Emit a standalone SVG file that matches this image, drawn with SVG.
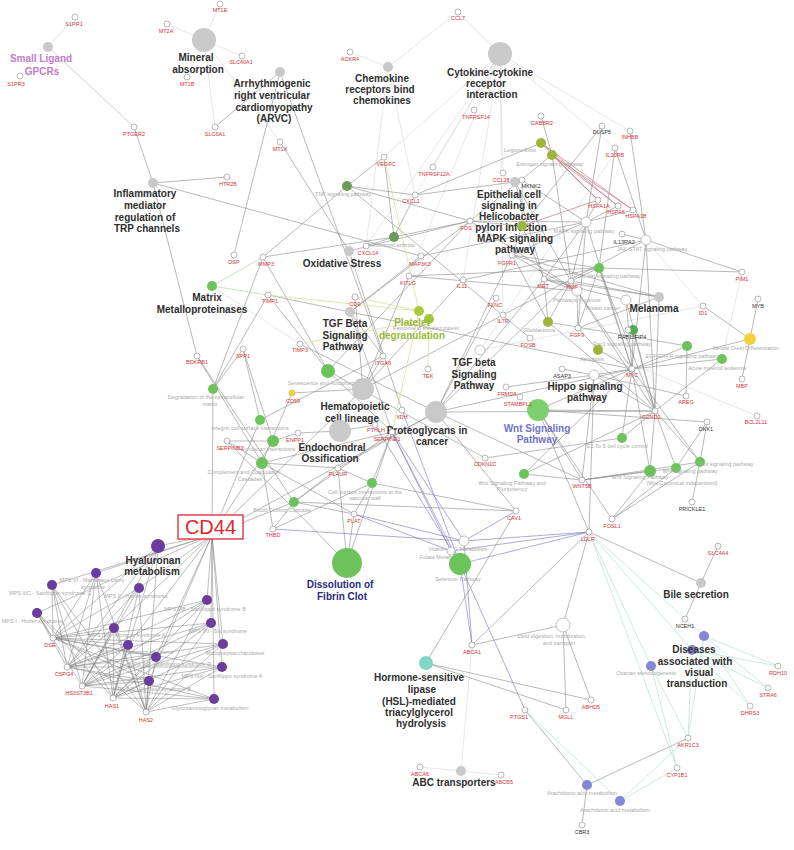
<svg xmlns="http://www.w3.org/2000/svg" width="794" height="850" viewBox="0 0 794 850">
<style>
.e{stroke:#8a8a8a;stroke-width:.6;fill:none}
.l{stroke:#d6d6d6;stroke-width:.6;fill:none}
.r{stroke:#c47784;stroke-width:.7;fill:none}
.v{stroke:#7474bc;stroke-width:.6;fill:none}
.t{stroke:#bfe3da;stroke-width:.8;fill:none}
.y{stroke:#d3e39a;stroke-width:.8;fill:none}
.pk{stroke:#dcb2d4;stroke-width:.8;fill:none}
.gl{stroke:#b8dcb0;stroke-width:.8;fill:none}
.m{stroke:#7c7c7c;stroke-width:.5;fill:none}
.gn circle{fill:#fff;stroke:#8a8a8a;stroke-width:.6}
.gn text{font-family:"Liberation Sans",Arial,sans-serif;font-size:5.5px;fill:#d6343c;text-anchor:middle}
.gn.k text{fill:#333}
.pw text{font-family:"Liberation Sans",Arial,sans-serif;font-size:5.5px;fill:#a9a9a9;text-anchor:middle}
.pw text.b{font-size:10px;font-weight:bold;fill:#2e2e2e}
.gray{fill:#c9c9c9}
.wh{fill:#fff;stroke:#9a9a9a;stroke-width:.6}
.grn{fill:#6cc35c}
.lgr{fill:#80cf6e}
.dgr{fill:#6c9a5a}
.olv{fill:#9cb53a}
.pur{fill:#6b3c9c}
.lpu{fill:#8686d6}
</style>
<rect width="794" height="850" fill="#fff"/>
<g id="connectors">
<path class="l" d="M48 47L75 17M48 47L20 76M204 40L220 4M204 40L167 24M204 40L242 56M204 40L187 77M204 40L215 127M204 40L280 142M388 67L350 52M388 67L458 12M388 67L415 195M388 67L366 246M500 54L458 12M500 54L474 110M500 54L433 167M500 54L415 195M500 54L503 173M500 54L384 157M500 54L630 131M500 54L615 148M500 54L463 280M500 54L409 276M500 54L503 315M500 54L366 246M480 350L630 131M703 306L646 240M703 306L480 350M742 272L722 359M757 416L598 350M461 771L472 645M461 771L420 767M461 771L501 775M300 344L212 286"/>
<path class="pk" d="M48 47L134 127"/>
<path class="e" d="M153 183L134 127M153 183L227 177M153 183L197 356M153 183L421 256M280 72L215 127M280 72L234 255M280 72L383 356M347 186L384 157M347 186L415 195M347 186L263 257M347 186L530 338M347 186L470 221M394 237L263 257M394 237L415 195M394 237L366 246M394 237L384 157M394 237L470 221M415 195L541 143M415 195L515 182M515 182L544 279M515 182L571 281M522 226L602 126M522 226L470 221M522 226L512 255M522 226L522 180M522 226L544 279M586 222L602 126M586 222L598 200M586 222L618 206M586 222L633 210M586 222L512 255M586 222L578 328M586 222L421 256M586 222L470 221M586 222L522 180M586 222L632 369M586 222L571 281M586 222L544 279M541 116L552 155M552 155L470 221M552 155L571 281M630 131L646 240M615 148L599 268M646 240L622 234M646 240L463 280M646 240L503 315M646 240L615 148M646 240L742 272M646 240L632 369M646 240L655 411M742 272L599 268M599 268L632 369M599 268L655 411M599 268L571 281M599 268L544 279M599 268L578 328M599 268L512 255M599 268L409 276M703 306L750 339M758 299L750 339M742 379L750 339M632 369L750 339M659 297L655 411M659 297L544 279M659 297L571 281M659 297L578 328M659 297L512 255M626 300L632 369M626 300L655 411M626 300L544 279M577 291L544 279M577 291L571 281M577 291L578 328M577 291L512 255M577 291L632 369M577 291L655 411M577 291L470 221M577 291L409 276M548 322L655 411M548 322L544 279M548 322L571 281M548 322L512 255M633 330L628 330M633 330L632 369M633 330L655 411M598 350L632 369M598 350L578 328M594 375L506 387M594 375L686 396M594 375L655 411M594 375L632 369M594 375L582 480M594 375L562 369M687 346L632 369M687 346L686 396M687 346L548 322M722 359L632 369M722 359L655 411M622 438L655 411M622 438L485 458M622 438L632 369M650 471L582 480M650 471L655 411M650 471L632 369M650 471L612 519M676 468L582 480M676 468L655 411M676 468L612 519M676 468L707 422M700 462L582 480M700 462L707 422M700 462L692 502M700 462L612 519M700 462L655 411M700 462L632 369M524 474L582 480M524 474L655 411M524 474L632 369M538 410L632 369M538 410L655 411M538 410L582 480M538 410L612 519M538 410L707 422M589 532L701 583M589 532L563 625M589 532L538 410M589 532L594 375M589 532L472 645M718 546L701 583M685 619L701 583M688 738L587 785M525 710L587 785M587 785L582 825M426 663L566 710M426 663L591 700M426 663L516 511M566 710L563 625M591 700L563 625M472 645L563 625M263 257L213 389M268 295L213 389M243 349L213 389M243 349L260 420M197 356L262 463M197 356L294 502M213 389L212 535M260 420L212 535M273 441L212 535M363 389L212 535M436 412L212 535M294 502L212 535M383 356L260 420M350 312L268 295M350 312L383 356M350 312L392 432M350 312L470 221M350 312L421 256M350 312L632 369M349 251L280 142M349 251L402 410M349 251L470 221M328 371L392 432M328 371L263 257M328 371L470 221M328 371L268 295M328 371L485 458M363 389L355 297M363 389L292 393M363 389L383 356M363 389L409 276M363 389L503 315M363 389L463 280M436 412L544 279M436 412L571 281M436 412L496 298M436 412L516 511M436 412L512 255M436 412L582 480M436 412L632 369M436 412L655 411M436 412L338 468M436 412L300 344M340 431L298 433M340 431L375 425M262 463L292 393M262 463L338 468M262 463L354 514M262 463L273 529M262 463L392 432M262 463L227 441M294 502L354 514M294 502L273 529M294 502L392 432M294 502L338 468M294 502L516 511M347 563L354 514M347 563L338 468M347 563L392 432M347 563L227 441M372 483L338 468M372 483L392 432M372 483L516 511M372 483L354 514M372 483L273 529M273 441L227 441M273 441L243 349M273 441L298 433"/>
<path class="v" d="M464 541L392 432M464 541L354 514M464 541L273 529M464 541L516 511M464 541L589 532M464 541L472 645M451 551L392 432M451 551L354 514M451 551L589 532M460 564L392 432M460 564L402 410M460 564L472 645M460 564L525 710M460 564L589 532M460 564L375 425"/>
<path class="r" d="M541 143L598 200M541 143L618 206M541 143L633 210M552 155L598 200M552 155L618 206M552 155L633 210M522 226L598 200"/>
<path class="t" d="M589 532L704 636M589 532L692 650M589 532L651 666M589 532L677 768M704 636L778 666M704 636L768 688M704 636L750 706M692 650L778 666M692 650L768 688M692 650L750 706M692 650L688 738M704 636L688 738M651 666L688 738M651 666L677 768M677 768L620 801M688 738L620 801M525 710L620 801"/>
<path class="y" d="M419 311L268 295M419 311L355 297M419 311L384 157M419 311L392 432M429 319L300 344M429 319L428 369"/>
<path class="gl" d="M212 286L263 257M212 286L268 295"/>
<path class="m" d="M212 535L158 546M212 535L96 573M212 535L52 585M212 535L139 588M212 535L207 600M212 535L37 613M212 535L114 628M212 535L211 623M212 535L128 645M212 535L156 657M212 535L223 644M212 535L222 667M212 535L149 681M212 535L214 699
M53 638L158 546M53 638L96 573M53 638L52 585M53 638L139 588M53 638L207 600M53 638L37 613M53 638L114 628M53 638L211 623M53 638L128 645M53 638L156 657M53 638L223 644M53 638L222 667M53 638L149 681M53 638L214 699
M67 667L158 546M67 667L96 573M67 667L52 585M67 667L139 588M67 667L207 600M67 667L37 613M67 667L114 628M67 667L211 623M67 667L128 645M67 667L156 657M67 667L223 644M67 667L222 667M67 667L149 681M67 667L214 699
M82 686L158 546M82 686L96 573M82 686L52 585M82 686L139 588M82 686L207 600M82 686L37 613M82 686L114 628M82 686L211 623M82 686L128 645M82 686L156 657M82 686L223 644M82 686L222 667M82 686L149 681M82 686L214 699
M113 698L158 546M113 698L96 573M113 698L52 585M113 698L139 588M113 698L207 600M113 698L37 613M113 698L114 628M113 698L211 623M113 698L128 645M113 698L156 657M113 698L223 644M113 698L222 667M113 698L149 681M113 698L214 699
M146 712L158 546M146 712L96 573M146 712L52 585M146 712L139 588M146 712L207 600M146 712L37 613M146 712L114 628M146 712L211 623M146 712L128 645M146 712L156 657M146 712L223 644M146 712L222 667M146 712L149 681M146 712L214 699"/>
</g>
<g id="pathways">
<g id="p-slg" class="pw"><circle class="gray" cx="48" cy="47" r="5"/><text class="b" style="fill:#c47cc8"><tspan x="41" y="62">Small Ligand</tspan><tspan x="42" y="75">GPCRs</tspan></text></g>
<g id="p-mineral" class="pw"><circle class="gray" cx="204" cy="40" r="12"/><text class="b"><tspan x="196" y="61">Mineral</tspan><tspan x="198" y="73">absorption</tspan></text></g>
<g id="p-arvc" class="pw"><circle class="gray" cx="280" cy="72" r="5"/><text class="b"><tspan x="272" y="87">Arrhythmogenic</tspan><tspan x="272" y="99">right ventricular</tspan><tspan x="274" y="111">cardiomyopathy</tspan><tspan x="274" y="122">(ARVC)</tspan></text></g>
<g id="p-inflam" class="pw"><circle class="gray" cx="153" cy="183" r="5"/><text class="b"><tspan x="145" y="197">Inflammatory</tspan><tspan x="145" y="209">mediator</tspan><tspan x="145" y="221">regulation of</tspan><tspan x="147" y="232">TRP channels</tspan></text></g>
<g id="p-chemo" class="pw"><circle class="gray" cx="388" cy="67" r="5"/><text class="b"><tspan x="382" y="82">Chemokine</tspan><tspan x="380" y="93">receptors bind</tspan><tspan x="382" y="104">chemokines</tspan></text></g>
<g id="p-cyto" class="pw"><circle class="gray" cx="500" cy="54" r="12"/><text class="b"><tspan x="490" y="76">Cytokine-cytokine</tspan><tspan x="486" y="87">receptor</tspan><tspan x="492" y="98">interaction</tspan></text></g>
<g id="p-tnf" class="pw"><circle class="dgr" cx="347" cy="186" r="5"/><text x="343" y="196">TNF signaling pathway</text></g>
<g id="p-legion" class="pw"><circle class="olv" cx="541" cy="143" r="5"/><text x="520" y="152">Legionellosis</text></g>
<g id="p-estro" class="pw"><circle class="olv" cx="552" cy="155" r="5"/><text x="550" y="166">Estrogen signaling pathway</text></g>
<g id="p-epi" class="pw"><circle class="gray" cx="515" cy="182" r="5"/><text class="b"><tspan x="509" y="198">Epithelial cell</tspan><tspan x="509" y="209">signaling in</tspan><tspan x="509" y="220">Helicobacter</tspan><tspan x="511" y="231">pylori infection</tspan></text></g>
<g id="p-mapk" class="pw"><circle class="olv" cx="522" cy="226" r="5"/><text class="b"><tspan x="515" y="242">MAPK signaling</tspan><tspan x="515" y="253">pathway</tspan></text></g>
<g id="p-rheum" class="pw"><circle class="dgr" cx="394" cy="237" r="5"/><text x="390" y="247">Rheumatoid arthritis</text></g>
<g id="p-oxid" class="pw"><circle class="gray" cx="349" cy="251" r="5"/><text class="b" x="342" y="267">Oxidative Stress</text></g>
<g id="p-matrix" class="pw"><circle class="grn" cx="212" cy="286" r="5"/><text class="b"><tspan x="207" y="301">Matrix</tspan><tspan x="202" y="313">Metalloproteinases</tspan></text></g>
<g id="p-tgfbwp" class="pw"><circle class="gray" cx="350" cy="312" r="5"/><text class="b"><tspan x="345" y="327">TGF Beta</tspan><tspan x="345" y="339">Signaling</tspan><tspan x="343" y="350">Pathway</tspan></text></g>
<g id="p-platelet" class="pw"><circle cx="419" cy="311" r="5" fill="#a9cc38"/><circle cx="429" cy="319" r="5" fill="#a0c83a"/><text x="426" y="329.5" style="font-size:5px">Response to elevated platelet</text><text class="b" style="fill:#9ab83a"><tspan x="412" y="326">Platelet</tspan><tspan x="412" y="339">degranulation</tspan></text></g>
<g id="p-tgfbk" class="pw"><circle class="wh" cx="480" cy="350" r="5"/><text class="b"><tspan x="474" y="366">TGF beta</tspan><tspan x="474" y="378">Signaling</tspan><tspan x="474" y="389">Pathway</tspan></text></g>
<g id="p-senes" class="pw"><circle class="grn" cx="328" cy="371" r="7"/><text x="322" y="385">Senescence and Autophagy</text></g>
<g id="p-hemato" class="pw"><circle class="gray" cx="363" cy="389" r="11"/><text class="b"><tspan x="355" y="410">Hematopoietic</tspan><tspan x="352" y="422">cell lineage</tspan></text></g>
<g id="p-proteo" class="pw"><circle class="gray" cx="436" cy="412" r="11"/><text class="b"><tspan x="427" y="434">Proteoglycans in</tspan><tspan x="432" y="445">cancer</tspan></text></g>
<g id="p-wnt" class="pw"><circle class="lgr" cx="538" cy="410" r="11"/><text class="b" style="fill:#7272c8"><tspan x="537" y="432">Wnt Signaling</tspan><tspan x="537" y="443">Pathway</tspan></text></g>
<g id="p-mapkw" class="pw"><circle class="wh" cx="586" cy="222" r="5"/><text x="584" y="233">MAPK signaling pathway</text></g>
<g id="p-jak" class="pw"><circle class="wh" cx="646" cy="240" r="5"/><text x="652" y="251">JAK-STAT signaling pathway</text></g>
<g id="p-g599" class="pw"><circle class="grn" cx="599" cy="268" r="5"/><text x="607" y="278">PI3K-Akt signaling pathway</text></g>
<g id="p-pathc" class="pw"><circle class="wh" cx="577" cy="291" r="5"/><text x="577" y="302">Pathways in cancer</text></g>
<g id="p-melan" class="pw"><circle class="gray" cx="659" cy="297" r="5"/><text class="b" x="654" y="312">Melanoma</text></g>
<g id="p-melw" class="pw"><circle class="wh" cx="626" cy="300" r="5"/><text x="603" y="310">Breast cancer</text></g>
<g id="p-glio" class="pw"><circle class="olv" cx="548" cy="322" r="5"/><text x="539" y="332">Glioblastoma</text></g>
<g id="p-rab" class="pw"><circle cx="633" cy="330" r="5" fill="#4fae4f"/><text x="622" y="346">Rac1 signaling pathway</text></g>
<g id="p-apop" class="pw"><circle class="olv" cx="598" cy="350" r="5"/><text x="592" y="361">Apoptosis</text></g>
<g id="p-hippo" class="pw"><circle class="wh" cx="594" cy="375" r="5"/><text class="b"><tspan x="585" y="390">Hippo signaling</tspan><tspan x="587" y="401">pathway</tspan></text></g>
<g id="p-egfr" class="pw"><circle class="grn" cx="687" cy="346" r="5"/><text x="682" y="358">EGF/EGFR signaling pathway</text></g>
<g id="p-aml" class="pw"><circle class="grn" cx="722" cy="359" r="5"/><text x="717" y="370">Acute myeloid leukemia</text></g>
<g id="p-neural" class="pw"><circle cx="750" cy="339" r="6" fill="#f2d43a"/><text x="746" y="350">Neural Crest Differentiation</text></g>
<g id="p-degr" class="pw"><circle class="grn" cx="213" cy="389" r="5"/><text><tspan x="206" y="399">Degradation of the extracellular</tspan><tspan x="210" y="406">matrix</tspan></text></g>
<g id="p-integ" class="pw"><circle class="grn" cx="260" cy="420" r="5"/><text x="250" y="430">Integrin cell surface interactions</text></g>
<g id="p-g273" class="pw"><circle class="grn" cx="273" cy="441" r="6"/><text x="268" y="451">Syndecan interactions</text></g>
<g id="p-compl" class="pw"><circle class="grn" cx="262" cy="463" r="6"/><text><tspan x="244" y="474">Complement and Coagulation</tspan><tspan x="250" y="481">Cascades</tspan></text></g>
<g id="p-endo" class="pw"><circle class="gray" cx="340" cy="431" r="11"/><text class="b"><tspan x="332" y="451">Endochondral</tspan><tspan x="330" y="462">Ossification</tspan></text></g>
<g id="p-cells" class="pw"><circle class="grn" cx="372" cy="483" r="5"/><text><tspan x="365" y="494">Cell surface interactions at the</tspan><tspan x="365" y="500">vascular wall</tspan></text></g>
<g id="p-blood" class="pw"><circle class="grn" cx="294" cy="502" r="5"/><text x="282" y="512">Blood Clotting Cascade</text></g>
<g id="p-wntp" class="pw"><circle class="grn" cx="524" cy="474" r="5"/><text><tspan x="512" y="485">Wnt Signaling Pathway and</tspan><tspan x="512" y="491">Pluripotency</tspan></text></g>
<g id="p-g1s" class="pw"><circle class="grn" cx="622" cy="438" r="5"/><text x="617" y="448">G1 To S cell cycle control</text></g>
<g id="p-wnta" class="pw"><circle class="grn" cx="650" cy="471" r="6"/><text x="640" y="479">Wnt Signaling Pathway</text></g>
<g id="p-wntb" class="pw"><circle class="grn" cx="676" cy="468" r="5"/><text><tspan x="690" y="473">Wnt signaling pathway</tspan><tspan x="682" y="485">(Wnt Canonical independent)</tspan></text></g>
<g id="p-wntc" class="pw"><circle class="grn" cx="700" cy="462" r="5"/><text x="726" y="466">Wnt signaling pathway</text></g>
<g id="p-vitb" class="pw"><circle class="wh" cx="464" cy="541" r="5"/><text x="458" y="551">Vitamin B12 Metabolism</text></g>
<g id="p-fol" class="pw"><circle class="wh" cx="451" cy="551" r="4"/><text x="442" y="559">Folate Metabolism</text></g>
<g id="p-selen" class="pw"><circle class="grn" cx="460" cy="564" r="11"/><text x="458" y="581">Selenium Pathway</text></g>
<g id="p-diss" class="pw"><circle class="grn" cx="347" cy="563" r="15"/><text class="b" style="fill:#2a2a80"><tspan x="340" y="588">Dissolution of</tspan><tspan x="342" y="600">Fibrin Clot</tspan></text></g>
<g id="p-lipid" class="pw"><circle class="wh" cx="563" cy="625" r="7"/><text><tspan x="552" y="638">Lipid digestion, mobilization,</tspan><tspan x="559" y="645">and transport</tspan></text></g>
<g id="p-bile" class="pw"><circle class="gray" cx="701" cy="583" r="5"/><text class="b" x="696" y="598">Bile secretion</text></g>
<g id="p-dis" class="pw"><circle class="lpu" cx="704" cy="636" r="5"/><circle class="lpu" cx="692" cy="650" r="5"/><text class="b"><tspan x="694" y="653">Diseases</tspan><tspan x="695" y="665">associated with</tspan><tspan x="699" y="676">visual</tspan><tspan x="697" y="687">transduction</tspan></text></g>
<g id="p-ovar" class="pw"><circle class="lpu" cx="651" cy="666" r="5"/><text x="646" y="675">Ovarian steroidogenesis</text></g>
<g id="p-hsl" class="pw"><circle cx="426" cy="663" r="7" fill="#84d6c4"/><text class="b"><tspan x="419" y="681">Hormone-sensitive</tspan><tspan x="422" y="693">lipase</tspan><tspan x="419" y="705">(HSL)-mediated</tspan><tspan x="419" y="716">triacylglycerol</tspan><tspan x="421" y="727">hydrolysis</tspan></text></g>
<g id="p-abc" class="pw"><circle class="gray" cx="461" cy="771" r="5"/><text class="b" x="454" y="786">ABC transporters</text></g>
<g id="p-ar1" class="pw"><circle class="lpu" cx="587" cy="785" r="5"/><text x="582" y="795">Arachidonic acid metabolism</text></g>
<g id="p-ar2" class="pw"><circle class="lpu" cx="620" cy="801" r="5"/><text x="615" y="812">Arachidonic acid metabolism</text></g>
<g id="p-hyal" class="pw"><circle class="pur" cx="158" cy="546" r="7"/><text class="b"><tspan x="153" y="564">Hyaluronan</tspan><tspan x="152" y="575">metabolism</tspan></text></g>
<g id="p-mps6" class="pw"><circle class="pur" cx="96" cy="573" r="5"/><text><tspan x="92" y="582">MPS VI - Maroteaux-Lamy</tspan><tspan x="93" y="589">syndrome</tspan></text></g>
<g id="p-mps3c" class="pw"><circle class="pur" cx="52" cy="585" r="5"/><text x="50" y="595">MPS IIIC - Sanfilippo syndrome C</text></g>
<g id="p-mps2" class="pw"><circle class="pur" cx="139" cy="588" r="5"/><text x="136" y="598">MPS II - Hunter syndrome</text></g>
<g id="p-mps3b" class="pw"><circle class="pur" cx="207" cy="600" r="5"/><text x="205" y="611">MPS IIIB - Sanfilippo syndrome B</text></g>
<g id="p-mps1" class="pw"><circle class="pur" cx="37" cy="613" r="5"/><text x="32" y="623">MPS I - Hurler syndrome</text></g>
<g id="p-mps4a" class="pw"><circle class="pur" cx="114" cy="628" r="5"/><text x="127" y="637">MPS IVA - Morquio syndrome A</text></g>
<g id="p-mps7" class="pw"><circle class="pur" cx="211" cy="623" r="5"/><text x="218" y="633">MPS VII - Sly syndrome</text></g>
<g id="p-mps9" class="pw"><circle class="pur" cx="128" cy="645" r="5"/><text x="138" y="654">MPS IX - Natowicz syndrome</text></g>
<g id="p-mps3d" class="pw"><circle class="pur" cx="156" cy="657" r="5"/><text x="170" y="666">MPS IIID - Sanfilippo syndrome D</text></g>
<g id="p-mucop" class="pw"><circle class="pur" cx="223" cy="644" r="5"/><text x="235" y="655">Mucopolysaccharidoses</text></g>
<g id="p-mps3a" class="pw"><circle class="pur" cx="222" cy="667" r="5"/><text x="222" y="678">MPS IIIA - Sanfilippo syndrome A</text></g>
<g id="p-mps4b" class="pw"><circle class="pur" cx="149" cy="681" r="5"/><text x="152" y="691">MPS IVB - Morquio syndrome B</text></g>
<g id="p-gag" class="pw"><circle class="pur" cx="214" cy="699" r="5"/><text x="210" y="710">Glycosaminoglycan metabolism</text></g>
</g>
<g id="genes">
<g id="g-S1PR1" class="gn"><circle cx="75" cy="17" r="3"/><text x="74" y="26">S1PR1</text></g>
<g id="g-S1PR3" class="gn"><circle cx="20" cy="76" r="3"/><text x="16" y="86">S1PR3</text></g>
<g id="g-PTGER2" class="gn"><circle cx="134" cy="127" r="3"/><text x="134" y="136">PTGER2</text></g>
<g id="g-HTR2B" class="gn"><circle cx="227" cy="177" r="3"/><text x="228" y="186">HTR2B</text></g>
<g id="g-MT1E" class="gn"><circle cx="220" cy="4" r="3"/><text x="220" y="12">MT1E</text></g>
<g id="g-MT2A" class="gn"><circle cx="167" cy="24" r="3"/><text x="166" y="33">MT2A</text></g>
<g id="g-SLC40A1" class="gn"><circle cx="242" cy="56" r="3"/><text x="241" y="64">SLC40A1</text></g>
<g id="g-MT1B" class="gn"><circle cx="187" cy="77" r="3"/><text x="187" y="86">MT1B</text></g>
<g id="g-SLC6A1" class="gn"><circle cx="215" cy="127" r="3"/><text x="215" y="136">SLC6A1</text></g>
<g id="g-MT1X" class="gn"><circle cx="280" cy="142" r="3"/><text x="280" y="151">MT1X</text></g>
<g id="g-DSP" class="gn"><circle cx="234" cy="255" r="3"/><text x="234" y="264">DSP</text></g>
<g id="g-MMP3" class="gn"><circle cx="263" cy="257" r="3"/><text x="266" y="266">MMP3</text></g>
<g id="g-ACKR4" class="gn"><circle cx="350" cy="52" r="3"/><text x="350" y="61">ACKR4</text></g>
<g id="g-CCL7" class="gn"><circle cx="458" cy="12" r="3"/><text x="458" y="20">CCL7</text></g>
<g id="g-TNFRSF14" class="gn"><circle cx="474" cy="110" r="3"/><text x="476" y="119">TNFRSF14</text></g>
<g id="g-VEGFC" class="gn"><circle cx="384" cy="157" r="3"/><text x="386" y="166">VEGFC</text></g>
<g id="g-TNFRSF12A" class="gn"><circle cx="433" cy="167" r="3"/><text x="434" y="176">TNFRSF12A</text></g>
<g id="g-CCL28" class="gn"><circle cx="503" cy="173" r="3"/><text x="501" y="182">CCL28</text></g>
<g id="g-MKNK2" class="gn k"><circle cx="522" cy="180" r="3"/><text x="531" y="188">MKNK2</text></g>
<g id="g-CXCL1" class="gn"><circle cx="415" cy="195" r="3"/><text x="411" y="203">CXCL1</text></g>
<g id="g-GABBR2" class="gn"><circle cx="541" cy="116" r="3"/><text x="542" y="125">GABBR2</text></g>
<g id="g-DUSP5" class="gn k"><circle cx="602" cy="126" r="3"/><text x="602" y="134">DUSP5</text></g>
<g id="g-INHBB" class="gn"><circle cx="630" cy="131" r="3"/><text x="630" y="139">INHBB</text></g>
<g id="g-IL20RB" class="gn"><circle cx="615" cy="148" r="3"/><text x="615" y="157">IL20RB</text></g>
<g id="g-HSPA1A" class="gn"><circle cx="598" cy="200" r="3"/><text x="599" y="208">HSPA1A</text></g>
<g id="g-HSPA6" class="gn"><circle cx="618" cy="206" r="3"/><text x="616" y="214">HSPA6</text></g>
<g id="g-HSPA1B" class="gn"><circle cx="633" cy="210" r="3"/><text x="636" y="218">HSPA1B</text></g>
<g id="g-FOS" class="gn"><circle cx="470" cy="221" r="3"/><text x="466" y="230">FOS</text></g>
<g id="g-CXCL14" class="gn"><circle cx="366" cy="246" r="3"/><text x="368" y="254.5">CXCL14</text></g>
<g id="g-MAP3K3" class="gn"><circle cx="421" cy="256" r="3"/><text x="420" y="266">MAP3K3</text></g>
<g id="g-KITLG" class="gn"><circle cx="409" cy="276" r="3"/><text x="408" y="285">KITLG</text></g>
<g id="g-IL11" class="gn"><circle cx="463" cy="280" r="3"/><text x="462" y="288">IL11</text></g>
<g id="g-FGFR1" class="gn"><circle cx="512" cy="255" r="3"/><text x="507" y="265">FGFR1</text></g>
<g id="g-FLNC" class="gn"><circle cx="496" cy="298" r="3"/><text x="495" y="307">FLNC</text></g>
<g id="g-IL7R" class="gn"><circle cx="503" cy="315" r="3"/><text x="503" y="323">IL7R</text></g>
<g id="g-CD9" class="gn"><circle cx="355" cy="297" r="3"/><text x="355" y="306">CD9</text></g>
<g id="g-TIMP1" class="gn"><circle cx="268" cy="295" r="3"/><text x="270" y="303">TIMP1</text></g>
<g id="g-TIMP3" class="gn"><circle cx="300" cy="344" r="3"/><text x="300" y="352">TIMP3</text></g>
<g id="g-ITGA6" class="gn"><circle cx="383" cy="356" r="3"/><text x="383" y="365">ITGA6</text></g>
<g id="g-TEK" class="gn"><circle cx="428" cy="369" r="3"/><text x="428" y="378">TEK</text></g>
<g id="g-FOSB" class="gn"><circle cx="530" cy="338" r="3"/><text x="528" y="347">FOSB</text></g>
<g id="g-CD59" class="gn"><circle cx="292" cy="393" r="3" style="fill:#ecd43c;stroke:#d8c030"/><text x="293" y="403">CD59</text></g>
<g id="g-XDH" class="gn"><circle cx="402" cy="410" r="3"/><text x="402" y="419">XDH</text></g>
<g id="g-FRMD6" class="gn"><circle cx="506" cy="387" r="3"/><text x="507" y="396">FRMD6</text></g>
<g id="g-STAMBPL1" class="gn"><circle cx="520" cy="397" r="3"/><text x="518" y="406">STAMBPL1</text></g>
<g id="g-MET" class="gn"><circle cx="544" cy="279" r="3"/><text x="543" y="288">MET</text></g>
<g id="g-HGF" class="gn"><circle cx="571" cy="281" r="3"/><text x="572" y="289">HGF</text></g>
<g id="g-FGF9" class="gn"><circle cx="578" cy="328" r="3"/><text x="577" y="337">FGF9</text></g>
<g id="g-IL13RA2" class="gn k"><circle cx="622" cy="234" r="3"/><text x="624" y="244">IL13RA2</text></g>
<g id="g-RAB11FIP4" class="gn k"><circle cx="628" cy="330" r="3"/><text x="632" y="339">RAB11FIP4</text></g>
<g id="g-ASAP3" class="gn k"><circle cx="562" cy="369" r="3"/><text x="562" y="378">ASAP3</text></g>
<g id="g-MYC" class="gn"><circle cx="632" cy="369" r="3"/><text x="632" y="377">MYC</text></g>
<g id="g-ID1" class="gn"><circle cx="703" cy="306" r="3"/><text x="703" y="315">ID1</text></g>
<g id="g-PIM1" class="gn"><circle cx="742" cy="272" r="3"/><text x="742" y="281">PIM1</text></g>
<g id="g-MYB" class="gn k"><circle cx="758" cy="299" r="3"/><text x="758" y="308">MYB</text></g>
<g id="g-MBP" class="gn"><circle cx="742" cy="379" r="3"/><text x="742" y="388">MBP</text></g>
<g id="g-AREG" class="gn"><circle cx="686" cy="396" r="3"/><text x="686" y="404">AREG</text></g>
<g id="g-BCL2L11" class="gn"><circle cx="757" cy="416" r="3"/><text x="756" y="424">BCL2L11</text></g>
<g id="g-CCND1" class="gn"><circle cx="655" cy="411" r="3"/><text x="651" y="419">CCND1</text></g>
<g id="g-DKK1" class="gn k"><circle cx="707" cy="422" r="3"/><text x="706" y="431">DKK1</text></g>
<g id="g-BDKRB1" class="gn"><circle cx="197" cy="356" r="3"/><text x="197" y="364">BDKRB1</text></g>
<g id="g-SPP1" class="gn"><circle cx="243" cy="349" r="3"/><text x="243" y="358">SPP1</text></g>
<g id="g-SERPINB2" class="gn"><circle cx="227" cy="441" r="3"/><text x="230" y="450">SERPINB2</text></g>
<g id="g-ENPP1" class="gn"><circle cx="298" cy="433" r="3"/><text x="295" y="442">ENPP1</text></g>
<g id="g-PTHLH" class="gn"><circle cx="375" cy="425" r="3"/><text x="376" y="432">PTHLH</text></g>
<g id="g-SERPINE1" class="gn"><circle cx="392" cy="432" r="3"/><text x="387" y="441">SERPINE1</text></g>
<g id="g-PLAUR" class="gn"><circle cx="338" cy="468" r="3"/><text x="338" y="476">PLAUR</text></g>
<g id="g-PLAT" class="gn"><circle cx="354" cy="514" r="3"/><text x="354" y="523">PLAT</text></g>
<g id="g-THBD" class="gn"><circle cx="273" cy="529" r="3"/><text x="273" y="537">THBD</text></g>
<g id="g-CDKN1C" class="gn"><circle cx="485" cy="458" r="3"/><text x="485" y="466">CDKN1C</text></g>
<g id="g-CAV1" class="gn"><circle cx="516" cy="511" r="3"/><text x="514" y="520">CAV1</text></g>
<g id="g-WNT5B" class="gn"><circle cx="582" cy="480" r="3"/><text x="582" y="488">WNT5B</text></g>
<g id="g-PRICKLE1" class="gn k"><circle cx="692" cy="502" r="3"/><text x="692" y="511">PRICKLE1</text></g>
<g id="g-FOSL1" class="gn"><circle cx="612" cy="519" r="3"/><text x="612" y="528">FOSL1</text></g>
<g id="g-LDLR" class="gn"><circle cx="589" cy="532" r="3"/><text x="588" y="541">LDLR</text></g>
<g id="g-SLC4A4" class="gn"><circle cx="718" cy="546" r="3"/><text x="718" y="555">SLC4A4</text></g>
<g id="g-NCEH1" class="gn k"><circle cx="685" cy="619" r="3"/><text x="685" y="628">NCEH1</text></g>
<g id="g-ABCA1" class="gn"><circle cx="472" cy="645" r="3"/><text x="472" y="654">ABCA1</text></g>
<g id="g-ABCA6" class="gn"><circle cx="420" cy="767" r="3"/><text x="420" y="776">ABCA6</text></g>
<g id="g-ABCB5" class="gn"><circle cx="501" cy="775" r="3"/><text x="504" y="784">ABCB5</text></g>
<g id="g-PTGS1" class="gn"><circle cx="525" cy="710" r="3"/><text x="519" y="719">PTGS1</text></g>
<g id="g-MGLL" class="gn"><circle cx="566" cy="710" r="3"/><text x="566" y="719">MGLL</text></g>
<g id="g-ABHD5" class="gn"><circle cx="591" cy="700" r="3"/><text x="591" y="709">ABHD5</text></g>
<g id="g-RDH10" class="gn"><circle cx="778" cy="666" r="3"/><text x="778" y="675">RDH10</text></g>
<g id="g-STRA6" class="gn"><circle cx="768" cy="688" r="3"/><text x="768" y="697">STRA6</text></g>
<g id="g-DHRS3" class="gn"><circle cx="750" cy="706" r="3"/><text x="750" y="715">DHRS3</text></g>
<g id="g-AKR1C3" class="gn"><circle cx="688" cy="738" r="3"/><text x="688" y="747">AKR1C3</text></g>
<g id="g-CYP1B1" class="gn"><circle cx="677" cy="768" r="3"/><text x="677" y="777">CYP1B1</text></g>
<g id="g-CBR3" class="gn k"><circle cx="582" cy="825" r="3"/><text x="582" y="834">CBR3</text></g>
<g id="g-DSE" class="gn"><circle cx="53" cy="638" r="3"/><text x="50" y="647">DSE</text></g>
<g id="g-CSPG4" class="gn"><circle cx="67" cy="667" r="3"/><text x="64" y="676">CSPG4</text></g>
<g id="g-HS3ST3B1" class="gn"><circle cx="82" cy="686" r="3"/><text x="79" y="695">HS3ST3B1</text></g>
<g id="g-HAS1" class="gn"><circle cx="113" cy="698" r="3"/><text x="112" y="708">HAS1</text></g>
<g id="g-HAS2" class="gn"><circle cx="146" cy="712" r="3"/><text x="146" y="722">HAS2</text></g>
<g id="g-CD44"><rect x="178" y="515" width="65" height="24" fill="#fff" stroke="#e0262b" stroke-width="1.3"/><text x="210.5" y="534" font-family="Liberation Sans, Arial, sans-serif" font-size="20" fill="#e0262b" text-anchor="middle">CD44</text></g>
</g>
</svg>
